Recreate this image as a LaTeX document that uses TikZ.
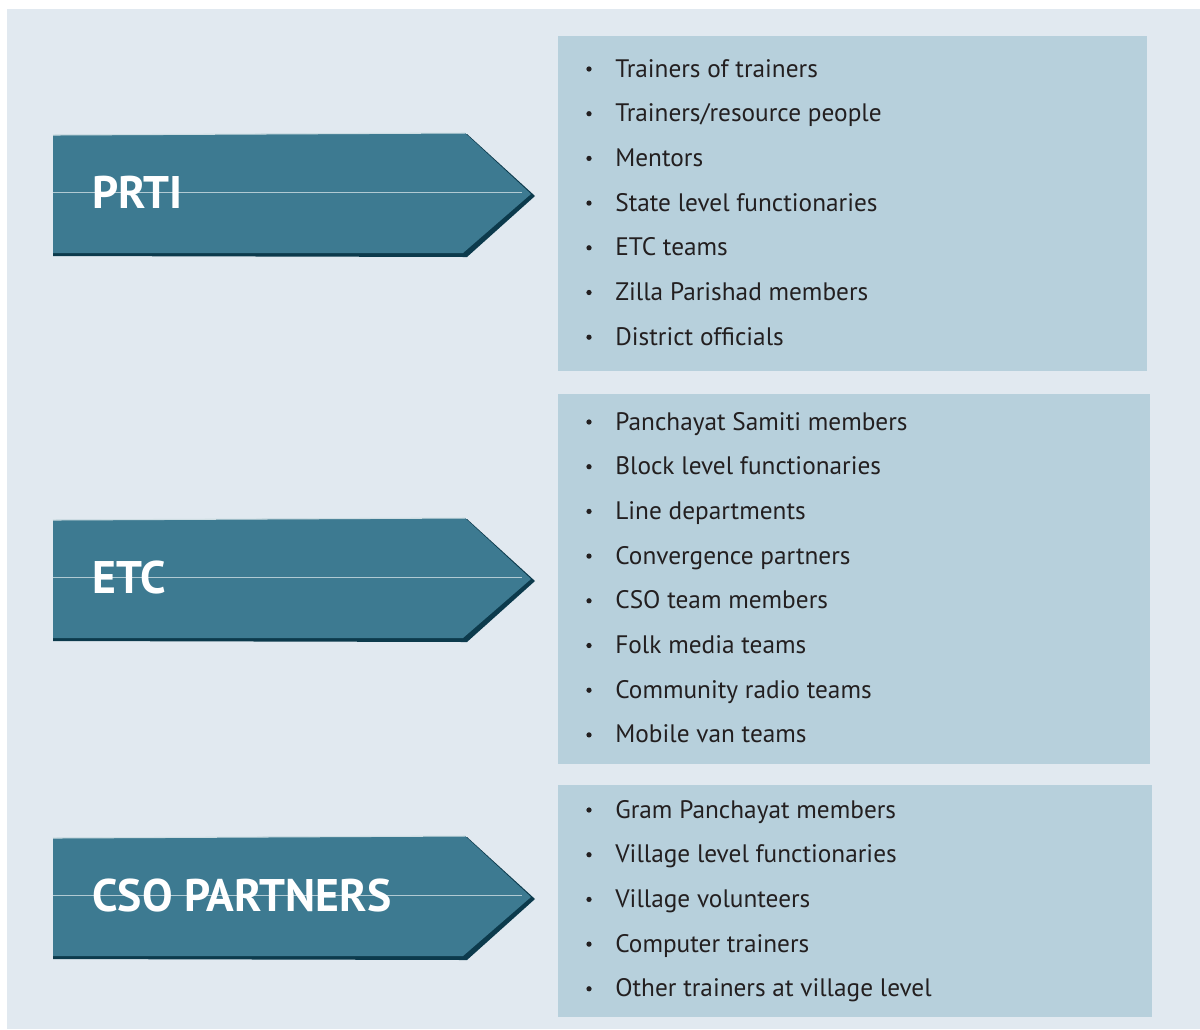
\documentclass[tikz,border=0pt]{standalone}
\usepackage{fontspec}
\setmainfont{PT Sans}
\definecolor{panel}{HTML}{E1E9F0}
\definecolor{listbox}{HTML}{B7D0DC}
\definecolor{arrowfill}{HTML}{3D7A91}
\definecolor{arrowdark}{HTML}{0C3A4C}
\definecolor{textdark}{HTML}{231F20}
\tikzset{
    item/.style={anchor=base west, inner sep=0pt, text=textdark,
        font=\fontsize{14.4}{17}\selectfont},
    bullet/.style={fill=textdark, circle, inner sep=0pt, minimum size=3pt},
    headtext/.style={anchor=base west, inner sep=0pt, text=white,
        font=\fontsize{26}{30}\selectfont\bfseries},
}
\begin{document}
\begin{tikzpicture}[x=0.02cm,y=-0.02cm]
\useasboundingbox (0,0) rectangle (1200,1029);
\fill[white] (0,0) rectangle (1200,1029);
\fill[panel] (7,9) rectangle (1200,1029);
% list boxes
\fill[listbox] (558,36) rectangle (1147,371);
\fill[listbox] (558,394) rectangle (1150,764);
\fill[listbox] (558,785) rectangle (1152,1017);
% arrows with their dark lower edge
\foreach \y/\name/\txt in {195/prti/PRTI,580/etc/ETC,898/cso/CSO PARTNERS}
{
    \fill[arrowdark] (53,\y-58)--(467,\y-61)--(535,\y+1)--(467,\y+62)--(53,\y+61)--cycle;
    \fill[arrowfill] (53,\y-60)--(465,\y-62)--(531,\y-1)--(463,\y+58)--(53,\y+58)--cycle;
    \draw[white!75!arrowfill, line width=0.6pt] (53,\y-60)--(465,\y-62);
    \draw[white!60!arrowfill, line width=0.4pt] (53,\y-3)--(522,\y-3);
    \node[headtext] (\name) at (92,\y+13) {\txt};
}
% items
\foreach \txt [count=\i] in {Trainers of trainers,Trainers/resource people,Mentors,
    State level functionaries,ETC teams,Zilla Parishad members,District officials}
{
    \node[bullet] (prti-b\i) at (589,69+44.7*\i-44.7) {};
    \node[item] (prti-\i) at (615,77+44.7*\i-44.7) {\txt};
}
\foreach \txt [count=\i] in {Panchayat Samiti members,Block level functionaries,
    Line departments,Convergence partners,CSO team members,Folk media teams,
    Community radio teams,Mobile van teams}
{
    \node[bullet] (etc-b\i) at (589,422+44.7*\i-44.7) {};
    \node[item] (etc-\i) at (615,430+44.7*\i-44.7) {\txt};
}
\foreach \txt [count=\i] in {Gram Panchayat members,Village level functionaries,
    Village volunteers,Computer trainers,Other trainers at village level}
{
    \node[bullet] (cso-b\i) at (589,810+44.7*\i-44.7) {};
    \node[item] (cso-\i) at (615,818+44.7*\i-44.7) {\txt};
}
\end{tikzpicture}
\end{document}
